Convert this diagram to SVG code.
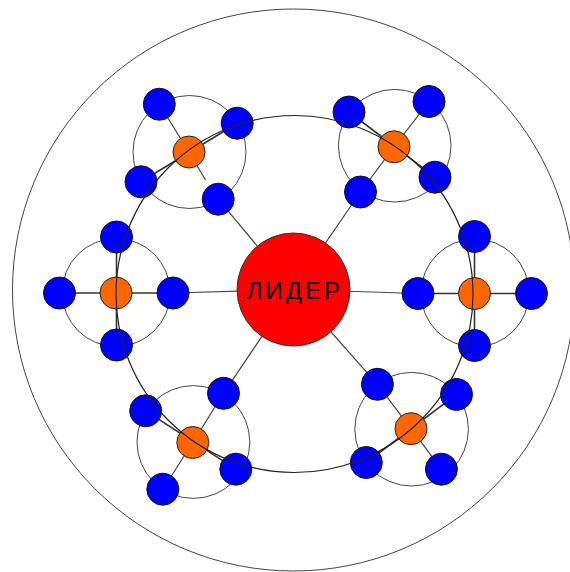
<svg xmlns="http://www.w3.org/2000/svg" width="570" height="572" viewBox="0 0 570 572">
<style>
.bg{fill:#fff}
.ring{fill:none;stroke:#444;stroke-width:1}
.big{fill:none;stroke:#222;stroke-width:1.2}
.c{stroke:#444;stroke-width:1.2;fill:none}
.t{stroke:#333;stroke-width:1.6;fill:none}
.b{fill:#0000ff;stroke:#111;stroke-width:1}
.o{fill:#ff6600;stroke:#222;stroke-width:1}
.l{fill:#ff0000;stroke:#333;stroke-width:1}
.lbl{font-family:"Liberation Sans",Arial,sans-serif;font-size:24px;letter-spacing:3px;fill:#000}
</style>
<rect class="bg" x="0" y="0" width="570" height="572"/>
<g id="rings">
<circle class="ring" cx="293.5" cy="290" r="281"/>
<circle class="ring" cx="116.2" cy="292.5" r="54"/>
<circle class="ring" cx="475" cy="293" r="54"/>
<circle class="ring" cx="189.5" cy="152" r="56.5"/>
<circle class="ring" cx="394.7" cy="145.7" r="56.3"/>
<circle class="ring" cx="193.4" cy="442" r="56.4"/>
<circle class="ring" cx="411.6" cy="429.2" r="56.8"/>
</g>
<g id="connectors">
<line class="c" x1="293.5" y1="289.5" x2="173" y2="293"/>
<line class="c" x1="293.5" y1="289.5" x2="418" y2="293.5"/>
<line class="c" x1="293.5" y1="289.5" x2="218.2" y2="199.2"/>
<line class="c" x1="293.5" y1="289.5" x2="360.5" y2="192"/>
<line class="c" x1="293.5" y1="289.5" x2="223.5" y2="393.3"/>
<line class="c" x1="293.5" y1="289.5" x2="377.4" y2="384.3"/>
<line class="t" x1="59.5" y1="293" x2="173" y2="293"/>
<line class="t" x1="116.5" y1="237" x2="116.5" y2="345"/>
<line class="t" x1="418" y1="293.5" x2="531.5" y2="293.5"/>
<line class="t" x1="474.5" y1="236.5" x2="474.5" y2="345.5"/>
<line class="c" x1="159.3" y1="104.2" x2="189" y2="152"/>
<line class="c" x1="189" y1="152" x2="205.5" y2="180"/>
<line class="t" x1="141" y1="181.8" x2="237.2" y2="123.2"/>
<line class="c" x1="429" y1="101.5" x2="394" y2="146.8"/>
<line class="c" x1="394" y1="146.8" x2="360.5" y2="192"/>
<line class="t" x1="349" y1="112" x2="435" y2="177.2"/>
<line class="c" x1="223.5" y1="393.3" x2="192.8" y2="442.5"/>
<line class="c" x1="192.8" y1="442.5" x2="162.8" y2="489.2"/>
<line class="t" x1="145.7" y1="410.8" x2="235.8" y2="469.2"/>
<line class="c" x1="377.4" y1="384.3" x2="411" y2="428.7"/>
<line class="c" x1="411" y1="428.7" x2="441.4" y2="469.2"/>
<line class="t" x1="456.5" y1="394.4" x2="366.3" y2="462.5"/>
</g>
<g id="leader"><circle class="l" cx="293.5" cy="289.5" r="56.5"/><text class="lbl" x="295" y="299" text-anchor="middle">ЛИДЕР</text></g>
<g id="w-core"><circle class="o" cx="116" cy="293" r="16"/></g>
<g id="w-1"><circle class="b" cx="59.5" cy="293" r="16"/></g>
<g id="w-2"><circle class="b" cx="173" cy="293" r="16"/></g>
<g id="w-3"><circle class="b" cx="116.5" cy="237" r="16"/></g>
<g id="w-4"><circle class="b" cx="116.5" cy="345" r="16"/></g>
<g id="e-core"><circle class="o" cx="474.5" cy="293.5" r="16"/></g>
<g id="e-1"><circle class="b" cx="418" cy="293.5" r="16"/></g>
<g id="e-2"><circle class="b" cx="531.5" cy="293.5" r="16"/></g>
<g id="e-3"><circle class="b" cx="474.5" cy="236.5" r="16"/></g>
<g id="e-4"><circle class="b" cx="474.5" cy="345.5" r="16"/></g>
<g id="nw-core"><circle class="o" cx="189" cy="152" r="16"/></g>
<g id="nw-1"><circle class="b" cx="159.3" cy="104.2" r="16"/></g>
<g id="nw-2"><circle class="b" cx="237.2" cy="123.2" r="16"/></g>
<g id="nw-3"><circle class="b" cx="141" cy="181.8" r="16"/></g>
<g id="nw-4"><circle class="b" cx="218.2" cy="199.2" r="16"/></g>
<g id="ne-core"><circle class="o" cx="394" cy="146.8" r="16"/></g>
<g id="ne-1"><circle class="b" cx="349" cy="112" r="16"/></g>
<g id="ne-2"><circle class="b" cx="429" cy="101.5" r="16"/></g>
<g id="ne-3"><circle class="b" cx="435" cy="177.2" r="16"/></g>
<g id="ne-4"><circle class="b" cx="360.5" cy="192" r="16"/></g>
<g id="sw-core"><circle class="o" cx="192.8" cy="442.5" r="16"/></g>
<g id="sw-1"><circle class="b" cx="145.7" cy="410.8" r="16"/></g>
<g id="sw-2"><circle class="b" cx="223.5" cy="393.3" r="16"/></g>
<g id="sw-3"><circle class="b" cx="235.8" cy="469.2" r="16"/></g>
<g id="sw-4"><circle class="b" cx="162.8" cy="489.2" r="16"/></g>
<g id="se-core"><circle class="o" cx="411" cy="428.7" r="16"/></g>
<g id="se-1"><circle class="b" cx="377.4" cy="384.3" r="16"/></g>
<g id="se-2"><circle class="b" cx="456.5" cy="394.4" r="16"/></g>
<g id="se-3"><circle class="b" cx="441.4" cy="469.2" r="16"/></g>
<g id="se-4"><circle class="b" cx="366.3" cy="462.5" r="16"/></g>
<g id="ring-main"><circle class="big" cx="294.5" cy="294" r="178.5"/></g>
</svg>
